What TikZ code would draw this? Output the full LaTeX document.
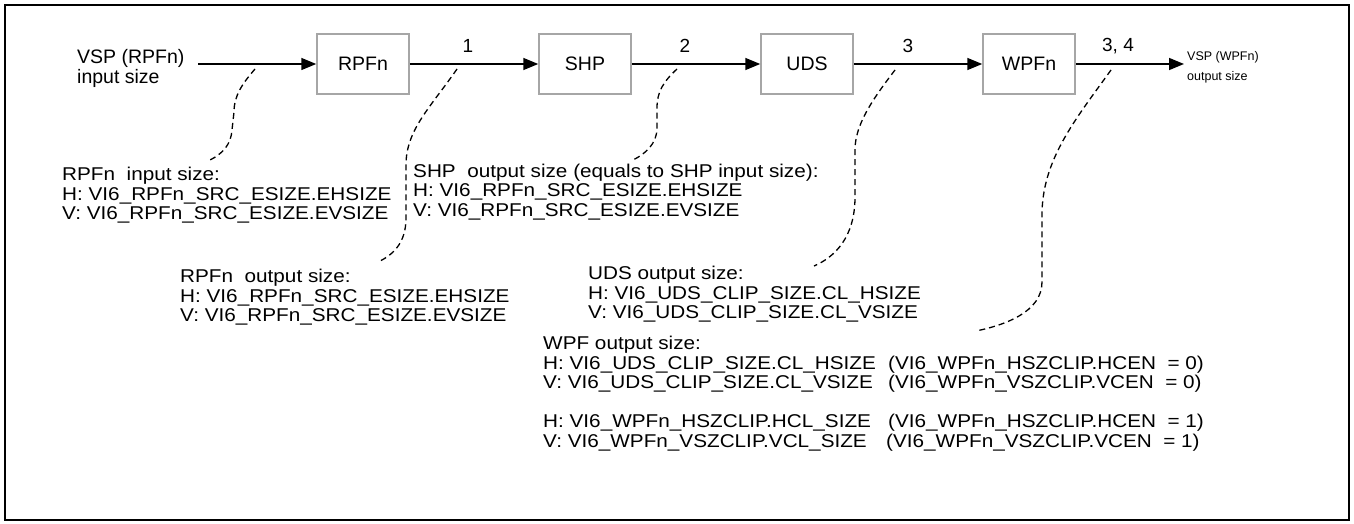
\documentclass[tikz,border=0pt]{standalone}
\usepackage{fontspec}
\setmainfont{Liberation Sans}
\newfontfamily\blockfont{Liberation Sans}[FakeStretch=1.12]
\usetikzlibrary{arrows.meta}
\begin{document}
\begin{tikzpicture}[x=1pt,y=-1pt,
  blk/.style={draw=black!35, line width=1.5pt, fill=white, minimum width=92pt, minimum height=60pt, inner sep=0pt, font=\fontsize{19.5}{20}\selectfont},
  flow/.style={line width=1.5pt, -{Triangle[length=15pt,width=12pt]}},
  lbl/.style={font=\fontsize{19}{20}\selectfont, inner sep=0pt},
  side/.style={anchor=base west, inner sep=0pt, font=\fontsize{19.5}{20}\selectfont},
  sidesmall/.style={anchor=base west, inner sep=0pt, font=\fontsize{12.5}{14}\selectfont},
  txt/.style={anchor=base west, inner sep=0pt, font=\blockfont\fontsize{18.5}{19.5}\selectfont},
  lead/.style={line width=1.3pt, dash pattern=on 6pt off 4pt},
]
\useasboundingbox (0,0) rectangle (1354,524);
\draw[line width=2.2pt] (5,5) rectangle (1349,520);

% boxes
\node[blk] (rpf) at (363,64) {RPFn};
\node[blk] (shp) at (585,64) {SHP};
\node[blk] (uds) at (807,64) {UDS};
\node[blk] (wpf) at (1029,64) {WPFn};

\coordinate (in) at (198,64);
\coordinate (out) at (1184,64);
\draw[flow] (in) -- (rpf);
\draw[flow] (rpf) -- (shp);
\draw[flow] (shp) -- (uds);
\draw[flow] (uds) -- (wpf);
\draw[flow] (wpf) -- (out);

% labels
\node[lbl] (n1) at (468,46) {1};
\node[lbl] (n2) at (685,46) {2};
\node[lbl] (n3) at (908,46) {3};
\node[lbl] (n34) at (1118,46) {3, 4};

\node[side] (vin1) at (77,64) {VSP (RPFn)};
\node[side] (vin2) at (77,84) {input size};
\node[sidesmall] (vout1) at (1187,61) {VSP (WPFn)};
\node[sidesmall] (vout2) at (1187,81) {output size};

% block A
\node[txt] (a1) at (62,180.5) {RPFn\ \ input size:};
\node[txt] (a2) at (62,200) {H: VI6\_RPFn\_SRC\_ESIZE.EHSIZE};
\node[txt] (a3) at (62,219.5) {V: VI6\_RPFn\_SRC\_ESIZE.EVSIZE};
% block B
\node[txt] (b1) at (413,177) {SHP\ \ output size (equals to SHP input size):};
\node[txt] (b2) at (413,196.5) {H: VI6\_RPFn\_SRC\_ESIZE.EHSIZE};
\node[txt] (b3) at (413,216) {V: VI6\_RPFn\_SRC\_ESIZE.EVSIZE};
% block C
\node[txt] (c1) at (180,282.5) {RPFn\ \ output size:};
\node[txt] (c2) at (180,302) {H: VI6\_RPFn\_SRC\_ESIZE.EHSIZE};
\node[txt] (c3) at (180,321.5) {V: VI6\_RPFn\_SRC\_ESIZE.EVSIZE};
% block D
\node[txt] (d1) at (588,279.5) {UDS output size:};
\node[txt] (d2) at (588,299) {H: VI6\_UDS\_CLIP\_SIZE.CL\_HSIZE};
\node[txt] (d3) at (588,318.5) {V: VI6\_UDS\_CLIP\_SIZE.CL\_VSIZE};
% block E
\node[txt] (e1) at (543,349) {WPF output size:};
\node[txt] (e2) at (543,369) {H: VI6\_UDS\_CLIP\_SIZE.CL\_HSIZE};
\node[txt] (e3) at (543,388.5) {V: VI6\_UDS\_CLIP\_SIZE.CL\_VSIZE};
\node[txt] (e4) at (543,427.5) {H: VI6\_WPFn\_HSZCLIP.HCL\_SIZE};
\node[txt] (e5) at (543,447) {V: VI6\_WPFn\_VSZCLIP.VCL\_SIZE};
\node[txt] (p2) at (888,369) {(VI6\_WPFn\_HSZCLIP.HCEN\ \ = 0)};
\node[txt] (p3) at (888,388.5) {(VI6\_WPFn\_VSZCLIP.VCEN\ \ = 0)};
\node[txt] (p4) at (888,427.5) {(VI6\_WPFn\_HSZCLIP.HCEN\ \ = 1)};
\node[txt] (p5) at (886,447) {(VI6\_WPFn\_VSZCLIP.VCEN\ \ = 1)};

% dashed leaders
\coordinate (l1s) at (255,69);  \coordinate (l1e) at (210,160);
\coordinate (l2s) at (457,69);  \coordinate (l2e) at (378,262);
\coordinate (l3s) at (677,69);  \coordinate (l3e) at (633,160);
\coordinate (l4s) at (895,70);  \coordinate (l4e) at (814,266);
\coordinate (l5s) at (1111,70); \coordinate (l5e) at (976,331);

\draw[lead] (l1s) .. controls (243,83) and (234,95) .. (234,112) -- (232,130) .. controls (231,145) and (222,154) .. (l1e);
\draw[lead] (l2s) .. controls (430,108) and (406,130) .. (406,165) -- (406,218) .. controls (406,243) and (393,255) .. (l2e);
\draw[lead] (l3s) .. controls (663,82) and (657,92) .. (657,108) -- (657,128) .. controls (657,144) and (645,154) .. (l3e);
\draw[lead] (l4s) .. controls (872,100) and (855,125) .. (855,150) -- (855,197) .. controls (855,237) and (835,257) .. (l4e);
\draw[lead] (l5s) .. controls (1075,120) and (1042,160) .. (1042,215) -- (1042,282) .. controls (1042,312) and (1005,325) .. (l5e);
\end{tikzpicture}
\end{document}
